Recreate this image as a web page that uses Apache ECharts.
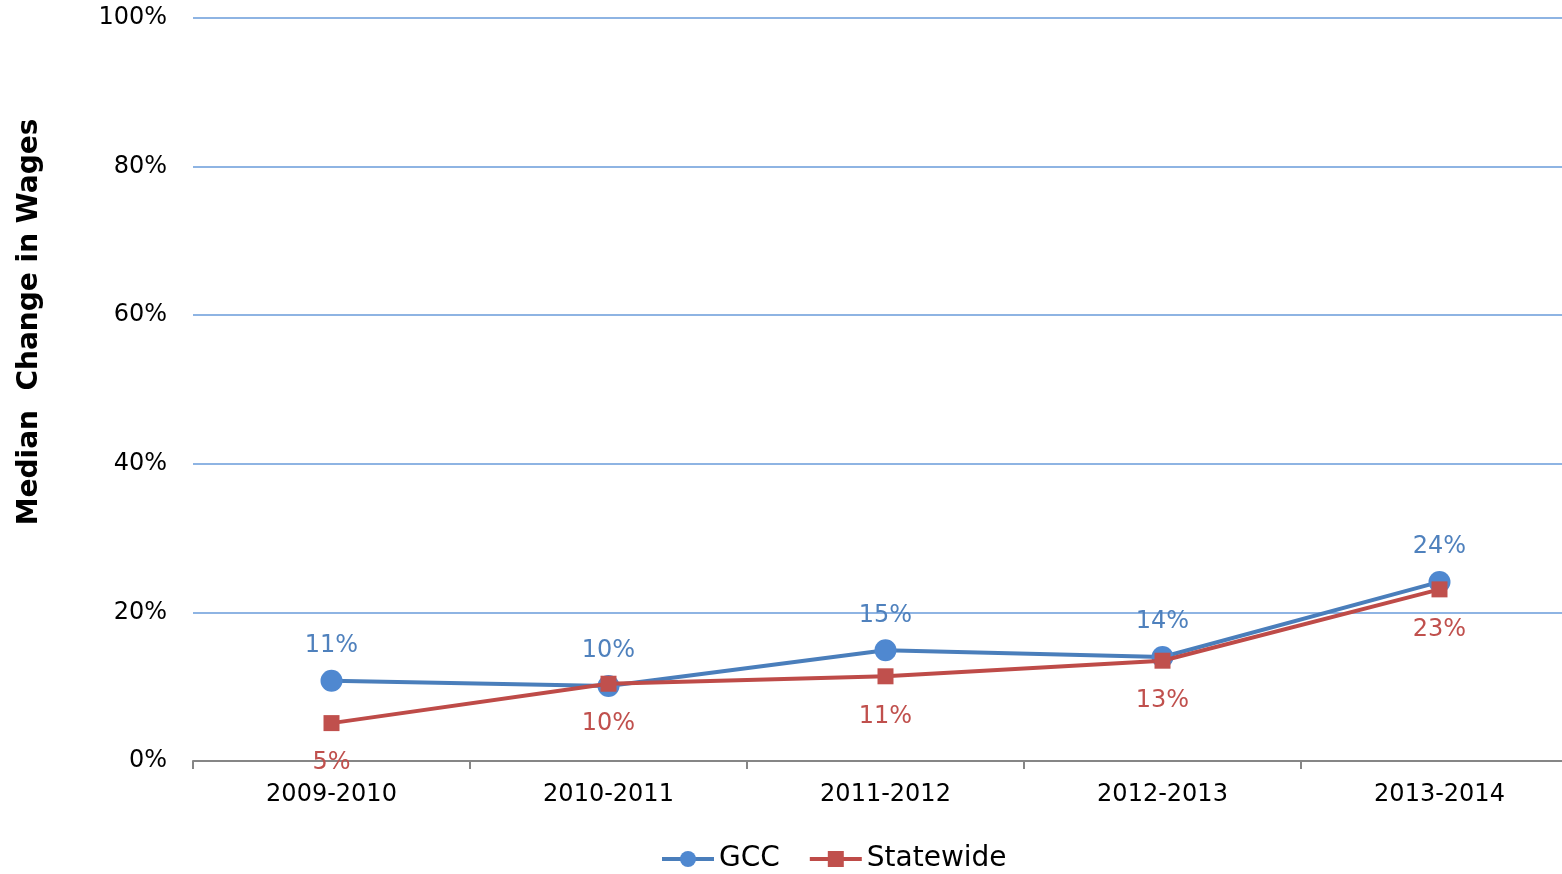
<!DOCTYPE html>
<html>
<head>
<meta charset="utf-8">
<script src="https://cdn.jsdelivr.net/npm/echarts@6/dist/echarts.min.js"></script>
<style>html,body{margin:0;padding:0;background:#fff;overflow:hidden;width:1562px;height:874px;}#c{width:1578px;height:874px;}</style>
</head>
<body>
<div id="c"></div>
<script>
const categories = ['2009-2010', '2010-2011', '2011-2012', '2012-2013', '2013-2014'];
const gcc = [10.8, 10.1, 14.9, 14.0, 24.1];
const statewide = [5.1, 10.4, 11.4, 13.5, 23.1];
const gccLabels = ['11%', '10%', '15%', '14%', '24%'];
const stateLabels = ['5%', '10%', '11%', '13%', '23%'];
const yTicks = [0, 20, 40, 60, 80, 100];

const font = '"DejaVu Sans", Verdana, sans-serif';
const chart = echarts.init(document.getElementById('c'));
chart.setOption({
  animation: false,
  textStyle: { fontFamily: font },
  grid: { left: 193, right: 0, top: 18, bottom: 113, containLabel: false },
  graphic: [{
    type: 'text', x: 30, y: 322, rotation: Math.PI / 2,
    style: { text: 'Median  Change in Wages', font: 'bold 28px ' + font, fill: '#000', align: 'center', verticalAlign: 'middle' }
  }],
  legend: {
    top: 840, left: 655, itemWidth: 52, itemHeight: 20, itemGap: 28,
    textStyle: { fontSize: 28, color: '#000', fontFamily: font },
    lineStyle: { width: 4 },
    data: ['GCC', 'Statewide']
  },
  xAxis: {
    type: 'category', data: categories, boundaryGap: true,
    axisLine: { lineStyle: { color: '#868686', width: 2 } },
    axisTick: { show: true, length: 8, lineStyle: { color: '#868686', width: 2 } },
    axisLabel: { fontSize: 24, color: '#000', margin: 22, fontFamily: font },
    splitLine: { show: false }
  },
  yAxis: {
    type: 'value', min: 0, max: 100, interval: 20,
    axisLine: { show: false }, axisTick: { show: false },
    axisLabel: { fontSize: 24, color: '#000', margin: 26, fontFamily: font,
      formatter: v => yTicks.includes(v) ? v + '%' : '' },
    splitLine: { lineStyle: { color: '#8EB4E3', width: 2 } }
  },
  series: [
    {
      name: 'GCC', type: 'line', data: gcc, z: 2,
      symbol: 'circle', symbolSize: 22,
      lineStyle: { color: '#4A7EBB', width: 4 },
      itemStyle: { color: '#4F88D0' },
      label: { show: true, position: 'top', distance: 12, fontSize: 24, color: '#4F81BD', fontFamily: font,
        formatter: p => gccLabels[p.dataIndex] }
    },
    {
      name: 'Statewide', type: 'line', data: statewide, z: 3,
      symbol: 'rect', symbolSize: 16,
      lineStyle: { color: '#BE4B48', width: 4 },
      itemStyle: { color: '#C0504D' },
      label: { show: true, position: 'bottom', distance: 20, fontSize: 24, color: '#C0504D', fontFamily: font,
        formatter: p => stateLabels[p.dataIndex] }
    }
  ]
});
</script>
</body>
</html>
